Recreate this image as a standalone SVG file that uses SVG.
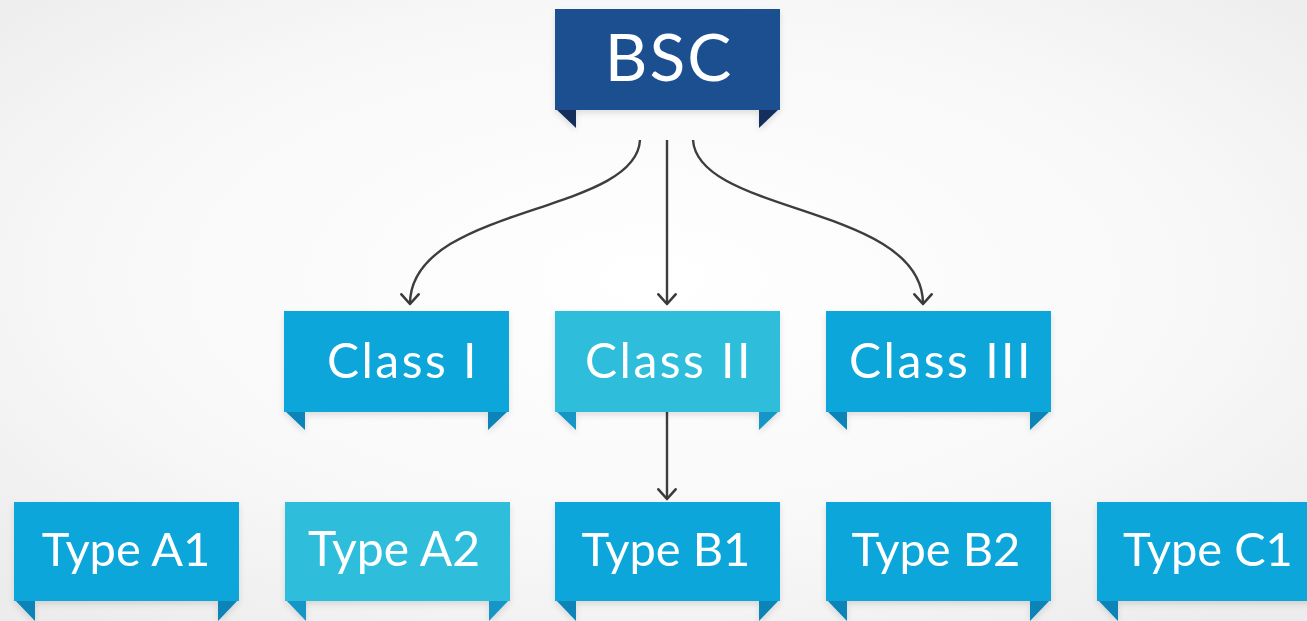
<svg xmlns="http://www.w3.org/2000/svg" width="1307" height="621" viewBox="0 0 1307 621">
<defs>
<radialGradient id="bg" cx="50%" cy="45%" r="70%">
<stop offset="0" stop-color="#ffffff"/>
<stop offset="0.6" stop-color="#f8f8f8"/>
<stop offset="1" stop-color="#ececec"/>
</radialGradient>
<filter id="sh" x="-10%" y="-10%" width="120%" height="140%">
<feGaussianBlur in="SourceAlpha" stdDeviation="3"/>
<feOffset dy="3"/>
<feComponentTransfer><feFuncA type="linear" slope="0.12"/></feComponentTransfer>
<feMerge><feMergeNode/><feMergeNode in="SourceGraphic"/></feMerge>
</filter>
<marker id="arr" markerUnits="userSpaceOnUse" markerWidth="14" markerHeight="20" refX="11" refY="9" orient="auto" viewBox="0 0 13 18">
<path d="M2,1 L11,9 L2,17" fill="none" stroke="#3a3a3a" stroke-width="2.4" stroke-linecap="round" stroke-linejoin="round"/>
</marker>
<style>
.lbl{font-family:"Lato","Open Sans","Liberation Sans",sans-serif;fill:#ffffff;text-anchor:middle}
.cls{letter-spacing:2.5px}
.b1{fill:#0aa6da}
.b1t{fill:#0784b8}
.b2{fill:#2dbedc}
.b2t{fill:#1896c6}
.b0{fill:#1d4f90}
.b0t{fill:#122e5c}
.con{fill:none;stroke:#3d3d3d;stroke-width:2.4}
</style>
</defs>
<rect width="1307" height="621" fill="url(#bg)"/>
<g id="connectors">
<path class="con" d="M640,140 C636,215 410,205 410,304" marker-end="url(#arr)"/>
<path class="con" d="M667,140 L667,304" marker-end="url(#arr)"/>
<path class="con" d="M693,140 C698,215 923,205 923,304" marker-end="url(#arr)"/>
<path class="con" d="M667,412 L667,499" marker-end="url(#arr)"/>
</g>
<g id="bsc" filter="url(#sh)">
<polygon class="b0t" points="555,108 576,108 576,128"/>
<polygon class="b0t" points="759,108 780,108 759,128"/>
<rect class="b0" x="555" y="9" width="225" height="101"/>
<text class="lbl" x="669" y="81" font-size="66" letter-spacing="2">BSC</text>
</g>
<g id="class1" filter="url(#sh)">
<polygon class="b1t" points="284,410 305,410 305,430"/>
<polygon class="b1t" points="488,410 509,410 488,430"/>
<rect class="b1" x="284" y="311" width="225" height="101"/>
<text class="lbl cls" x="403" y="378" font-size="48">Class I</text>
</g>
<g id="class2" filter="url(#sh)">
<polygon class="b2t" points="555,410 576,410 576,430"/>
<polygon class="b2t" points="759,410 780,410 759,430"/>
<rect class="b2" x="555" y="311" width="225" height="101"/>
<text class="lbl cls" x="669" y="378" font-size="48">Class II</text>
</g>
<g id="class3" filter="url(#sh)">
<polygon class="b1t" points="826,410 847,410 847,430"/>
<polygon class="b1t" points="1030,410 1051,410 1030,430"/>
<rect class="b1" x="826" y="311" width="225" height="101"/>
<text class="lbl cls" x="941" y="378" font-size="48">Class III</text>
</g>
<g id="typeA1" filter="url(#sh)">
<polygon class="b1t" points="14,599 35,599 35,621"/>
<polygon class="b1t" points="218,599 239,599 218,621"/>
<rect class="b1" x="14" y="502" width="225" height="99"/>
<text class="lbl" x="126" y="566" font-size="47">Type A1</text>
</g>
<g id="typeA2" filter="url(#sh)">
<polygon class="b2t" points="285,599 306,599 306,621"/>
<polygon class="b2t" points="489,599 510,599 489,621"/>
<rect class="b2" x="285" y="502" width="225" height="99"/>
<text class="lbl" x="394" y="566" font-size="48">Type A2</text>
</g>
<g id="typeB1" filter="url(#sh)">
<polygon class="b1t" points="555,599 576,599 576,621"/>
<polygon class="b1t" points="759,599 780,599 759,621"/>
<rect class="b1" x="555" y="502" width="225" height="99"/>
<text class="lbl" x="666" y="566" font-size="47">Type B1</text>
</g>
<g id="typeB2" filter="url(#sh)">
<polygon class="b1t" points="826,599 847,599 847,621"/>
<polygon class="b1t" points="1030,599 1051,599 1030,621"/>
<rect class="b1" x="826" y="502" width="225" height="99"/>
<text class="lbl" x="936" y="566" font-size="47">Type B2</text>
</g>
<g id="typeC1" filter="url(#sh)">
<polygon class="b1t" points="1097,599 1118,599 1118,621"/>
<rect class="b1" x="1097" y="502" width="225" height="99"/>
<text class="lbl" x="1208" y="566" font-size="47">Type C1</text>
</g>
</svg>
